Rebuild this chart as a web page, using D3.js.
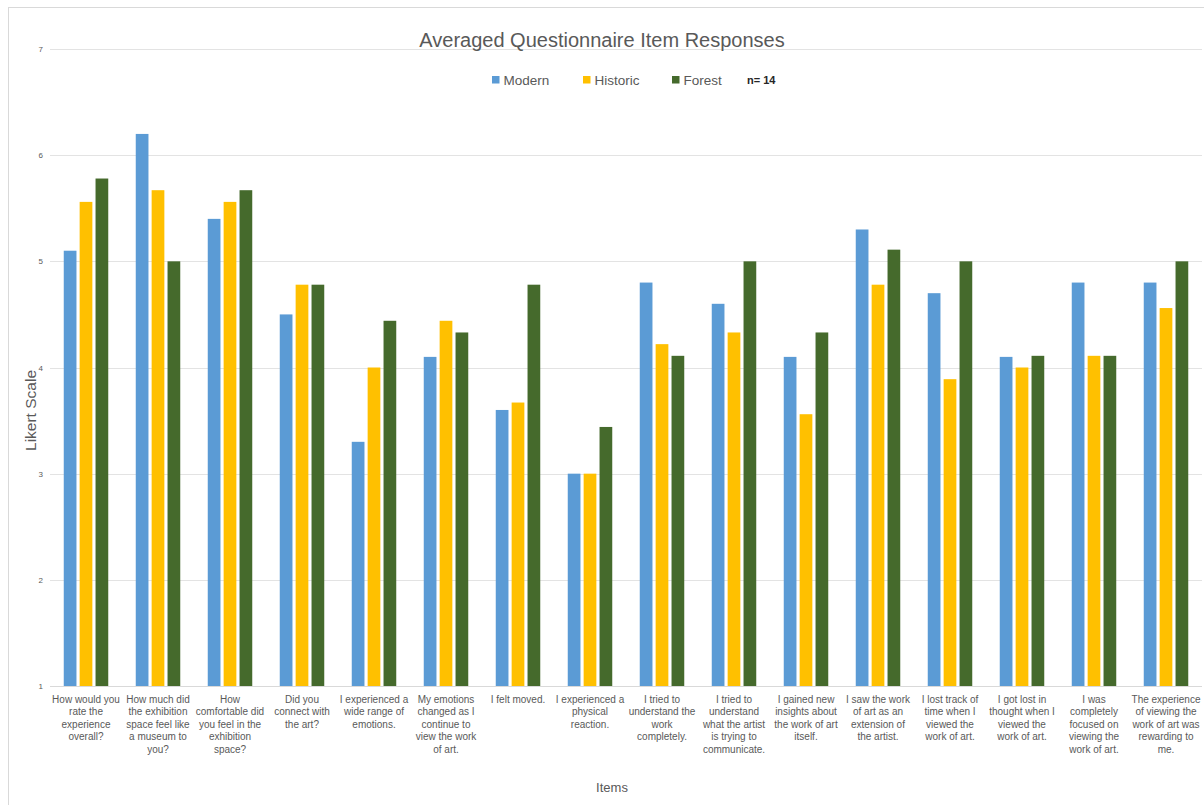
<!DOCTYPE html>
<html>
<head>
<meta charset="utf-8">
<script src="https://cdn.jsdelivr.net/npm/d3@7"></script>
<style>
  html, body { margin: 0; padding: 0; background: #ffffff; }
  svg { display: block; font-family: "Liberation Sans", Arial, sans-serif; }
</style>
</head>
<body>
<svg id="chart" width="1204" height="805"></svg>
<script>
// Questionnaire items (line breaks mark where each label wraps)
const categories = [
  "How would you\nrate the\nexperience\noverall?",
  "How much did\nthe exhibition\nspace feel like\na museum to\nyou?",
  "How\ncomfortable did\nyou feel in the\nexhibition\nspace?",
  "Did you\nconnect with\nthe art?",
  "I experienced a\nwide range of\nemotions.",
  "My emotions\nchanged as I\ncontinue to\nview the work\nof art.",
  "I felt moved.",
  "I experienced a\nphysical\nreaction.",
  "I tried to\nunderstand the\nwork\ncompletely.",
  "I tried to\nunderstand\nwhat the artist\nis trying to\ncommunicate.",
  "I gained new\ninsights about\nthe work of art\nitself.",
  "I saw the work\nof art as an\nextension of\nthe artist.",
  "I lost track of\ntime when I\nviewed the\nwork of art.",
  "I got lost in\nthought when I\nviewed the\nwork of art.",
  "I was\ncompletely\nfocused on\nviewing the\nwork of art.",
  "The experience\nof viewing the\nwork of art was\nrewarding to\nme."
];

const seriesNames = ["Modern", "Historic", "Forest"];

// Averaged Likert responses per item
const modern   = [5.10, 6.20, 5.40, 4.50, 3.30, 4.10, 3.60, 3.00, 4.80, 4.60, 4.10, 5.30, 4.70, 4.10, 4.80, 4.80];
const historic = [5.56, 5.67, 5.56, 4.78, 4.00, 4.44, 3.67, 3.00, 4.22, 4.33, 3.56, 4.78, 3.89, 4.00, 4.11, 4.56];
const forest   = [5.78, 5.00, 5.67, 4.78, 4.44, 4.33, 4.78, 3.44, 4.11, 5.00, 4.33, 5.11, 5.00, 4.11, 4.11, 5.00];

const yTicks = [1, 2, 3, 4, 5, 6, 7];

const seriesValues = [modern, historic, forest];
const colors = ["#5b9bd5", "#ffc000", "#456a2c"];
const textGrey = "#595959";

const svg = d3.select("#chart");

// Outer chart frame
svg.append("rect")
  .attr("x", 8.5).attr("y", 7.5)
  .attr("width", 1210).attr("height", 820)
  .attr("fill", "none").attr("stroke", "#d9d9d9").attr("stroke-width", 1);

const plot = { left: 50, right: 1202, top: 49, bottom: 686 };

const x = d3.scaleBand()
  .domain(d3.range(categories.length))
  .range([plot.left, plot.right])
  .padding(0);

const xInner = d3.scaleBand()
  .domain(d3.range(seriesNames.length))
  .range([0, x.bandwidth()])
  .paddingInner(0.2)
  .paddingOuter(0.865);

const y = d3.scaleLinear()
  .domain([1, 7])
  .range([plot.bottom, plot.top]);

// Horizontal gridlines
svg.append("g")
  .selectAll("line")
  .data(yTicks.filter(t => t !== 1))
  .join("line")
  .attr("x1", plot.left).attr("x2", plot.right)
  .attr("y1", d => Math.round(y(d)) + 0.5).attr("y2", d => Math.round(y(d)) + 0.5)
  .attr("stroke", "#e3e3e3").attr("stroke-width", 1);

// Y axis tick labels
const yAxis = d3.axisLeft(y).tickValues(yTicks).tickSize(0).tickPadding(0).tickFormat(d3.format("d"));
const yG = svg.append("g")
  .attr("transform", `translate(${plot.left - 7},0)`)
  .call(yAxis);
yG.select(".domain").remove();
yG.selectAll("text")
  .attr("fill", textGrey)
  .attr("font-size", 8)
  .attr("font-family", "Liberation Sans, Arial, sans-serif");

// Bars
const groups = svg.append("g")
  .selectAll("g")
  .data(categories.map((c, i) => i))
  .join("g")
  .attr("transform", i => `translate(${x(i)},0)`);

groups.selectAll("rect")
  .data(i => seriesValues.map((vals, s) => ({ s, v: vals[i] })))
  .join("rect")
  .attr("x", d => xInner(d.s))
  .attr("width", xInner.bandwidth())
  .attr("y", d => y(d.v))
  .attr("height", d => y(1) - y(d.v))
  .attr("fill", d => colors[d.s]);

// Baseline
svg.append("line")
  .attr("x1", plot.left).attr("x2", plot.right)
  .attr("y1", plot.bottom + 0.5).attr("y2", plot.bottom + 0.5)
  .attr("stroke", "#d9d9d9").attr("stroke-width", 1);

// Category labels (bottom axis)
const xAxis = d3.axisBottom(x).tickSize(0).tickFormat("");
const xG = svg.append("g")
  .attr("transform", `translate(0,${plot.bottom})`)
  .call(xAxis);
xG.select(".domain").remove();
xG.selectAll(".tick").each(function(i) {
  const t = d3.select(this).append("text")
    .attr("fill", textGrey)
    .attr("font-size", 10)
    .attr("text-anchor", "middle")
    .attr("font-family", "Liberation Sans, Arial, sans-serif");
  categories[i].split("\n").forEach((line, k) => {
    t.append("tspan").attr("x", 0).attr("y", 16.5 + k * 12.6).text(line);
  });
});

// Title
svg.append("text")
  .attr("x", 602).attr("y", 47)
  .attr("text-anchor", "middle")
  .attr("font-size", 20)
  .attr("fill", textGrey)
  .text("Averaged Questionnaire Item Responses");

// Legend
const legendX = [492, 583, 672];
const legend = svg.append("g");
seriesNames.forEach((name, s) => {
  legend.append("rect")
    .attr("x", legendX[s]).attr("y", 76)
    .attr("width", 7.5).attr("height", 7.5)
    .attr("fill", colors[s]);
  legend.append("text")
    .attr("x", legendX[s] + 11.5).attr("y", 84.5)
    .attr("font-size", 13.5)
    .attr("fill", textGrey)
    .text(name);
});
legend.append("text")
  .attr("x", 747).attr("y", 83.5)
  .attr("font-size", 11)
  .attr("font-weight", "bold")
  .attr("fill", "#262626")
  .text("n= 14");

// Axis titles
svg.append("text")
  .attr("transform", `translate(36,${(plot.top + plot.bottom) / 2 + 43}) rotate(-90)`)
  .attr("text-anchor", "middle")
  .attr("font-size", 15.5)
  .attr("fill", textGrey)
  .text("Likert Scale");

svg.append("text")
  .attr("x", 612).attr("y", 792)
  .attr("text-anchor", "middle")
  .attr("font-size", 13)
  .attr("fill", textGrey)
  .text("Items");
</script>
</body>
</html>
